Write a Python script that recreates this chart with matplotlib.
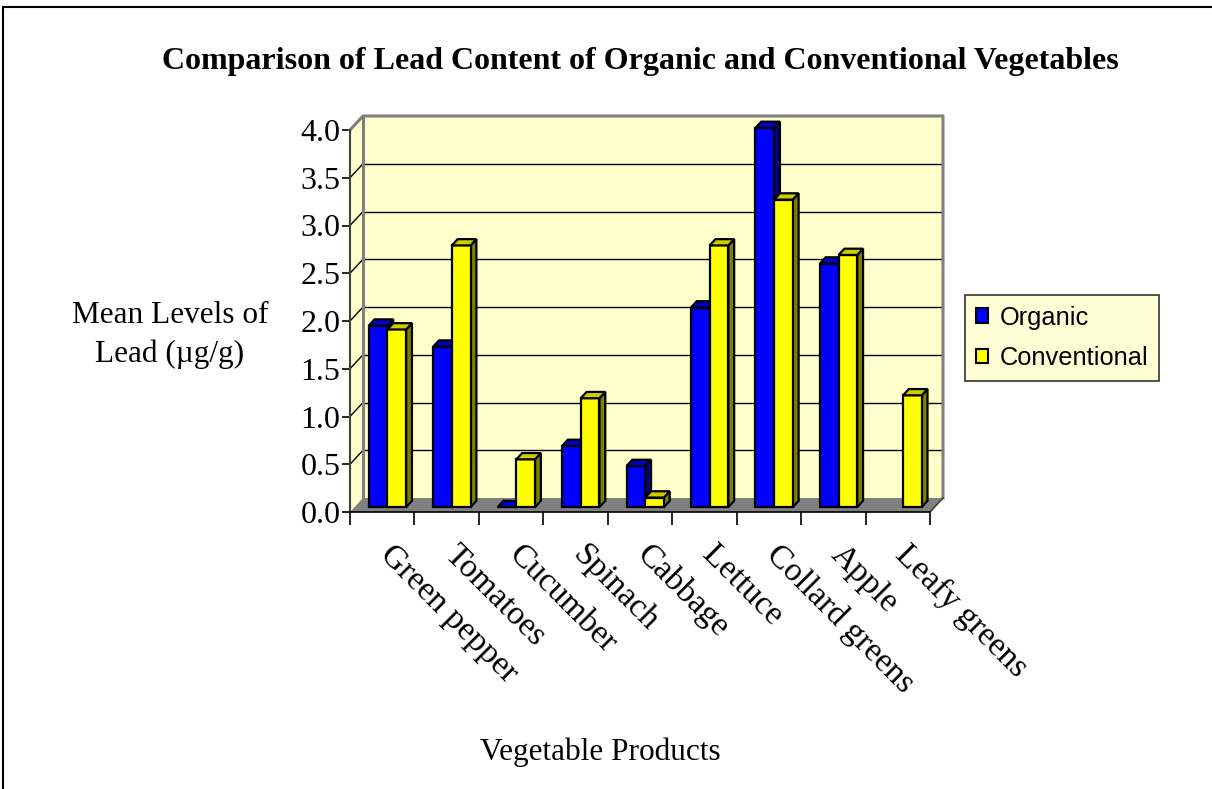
import numpy as np
import matplotlib
matplotlib.use("Agg")
import matplotlib.pyplot as plt
from matplotlib.patches import Polygon, Patch
from matplotlib.lines import Line2D
from matplotlib.transforms import ScaledTranslation

# ---------------- data ----------------
categories = ["Green pepper", "Tomatoes", "Cucumber", "Spinach", "Cabbage",
              "Lettuce", "Collard greens", "Apple", "Leafy greens"]
organic = [1.90, 1.68, 0.00, 0.64, 0.43, 2.09, 3.97, 2.55, np.nan]
conventional = [1.86, 2.74, 0.50, 1.14, 0.10, 2.74, 3.22, 2.64, 1.17]
series_names = ["Organic", "Conventional"]
yticks = [0.0, 0.5, 1.0, 1.5, 2.0, 2.5, 3.0, 3.5, 4.0]
title = "Comparison of Lead Content of Organic and Conventional Vegetables"
xlabel = "Vegetable Products"
ylabel = "Mean Levels of\nLead (\u00b5g/g)"

# ---------------- style ----------------
W, H = 1212, 789
SERIF = "Liberation Serif"
SANS = "Liberation Sans"
front_cols = ["#0000FF", "#FFFF00"]
top_cols = ["#0000C8", "#CCCC00"]
side_cols = ["#000080", "#808000"]
wall_col = "#FFFFCC"
floor_col = "#808080"

fig = plt.figure(figsize=(W / 100, H / 100), dpi=100)
fig.patch.set_facecolor("white")

# front plane of the 3-D box in pixels
L, R, B, T = 350, 930, 512, 130
ax = fig.add_axes([L / W, (H - B) / H, (R - L) / W, (B - T) / H])
n = len(categories)
ax.set_xlim(-0.5, n - 0.5)
ax.set_ylim(0, 4.0)
ax.patch.set_alpha(0)
for s in ax.spines.values():
    s.set_visible(False)

# depth vector in data units
px_x = (R - L) / n
px_y = (B - T) / 4.0
DX, DY = 13 / px_x, 14 / px_y
x_left, x_right = -0.5, n - 0.5
ymax = 4.0

# left wall, back wall, floor
ax.add_patch(Polygon([(x_left, 0), (x_left + DX, DY), (x_left + DX, ymax + DY), (x_left, ymax)],
                     closed=True, facecolor=wall_col, edgecolor="none", zorder=1, clip_on=False))
ax.add_patch(Polygon([(x_left + DX, DY), (x_right + DX, DY), (x_right + DX, ymax + DY), (x_left + DX, ymax + DY)],
                     closed=True, facecolor=wall_col, edgecolor="none", zorder=1, clip_on=False))
# gridlines
for yv in yticks[1:-1]:
    ax.plot([x_left + DX, x_right + DX], [yv + DY, yv + DY], color="black", lw=1.0, zorder=2, clip_on=False)
for yv in yticks[1:-1]:
    ax.plot([x_left, x_left + DX], [yv, yv + DY], color="black", lw=1.0, zorder=2, clip_on=False)
# wall outlines
ax.plot([x_left, x_left + DX, x_right + DX, x_right + DX],
        [ymax, ymax + DY, ymax + DY, DY], color="#808080", lw=2.2, zorder=3, clip_on=False)
ax.plot([x_left + DX, x_left + DX], [DY, ymax + DY], color="#808080", lw=2.2, zorder=3, clip_on=False)
# floor
ax.add_patch(Polygon([(x_left, 0), (x_right, 0), (x_right + DX, DY), (x_left + DX, DY)],
                     closed=True, facecolor=floor_col, edgecolor="none", zorder=3, clip_on=False))
ax.plot([x_right, x_right + DX], [0, DY], color="#404040", lw=1.2, zorder=4, clip_on=False)
ax.plot([x_left, x_left], [0, ymax], color="#404040", lw=1.5, zorder=4, clip_on=False)
ax.plot([x_left, x_right], [0, 0], color="black", lw=1.2, zorder=4, clip_on=False)

# bars
bw = 0.29
a, b = 0.35, 0.8
for i in range(n):
    for s, vals in enumerate([organic, conventional]):
        v = vals[i]
        if np.isnan(v):
            continue
        x0 = i - 0.28 + s * bw
        z = 10 + i * 2 + s
        fx0, fx1 = x0 + a * DX, x0 + bw + a * DX
        bx0, bx1 = x0 + b * DX, x0 + bw + b * DX
        fy, by = a * DY, b * DY
        if v > 0:
            ax.add_patch(Polygon([(fx1, fy), (bx1, by), (bx1, v + by), (fx1, v + fy)], closed=True,
                                 facecolor=side_cols[s], edgecolor="black", lw=1.6,
                                 joinstyle="miter", zorder=z, clip_on=False))
            ax.add_patch(Polygon([(fx0, fy), (fx1, fy), (fx1, v + fy), (fx0, v + fy)], closed=True,
                                 facecolor=front_cols[s], edgecolor="black", lw=1.6,
                                 joinstyle="miter", zorder=z, clip_on=False))
        ax.add_patch(Polygon([(fx0, v + fy), (fx1, v + fy), (bx1, v + by), (bx0, v + by)], closed=True,
                             facecolor=top_cols[s], edgecolor="black", lw=1.6,
                             joinstyle="miter", zorder=z, clip_on=False))

# ticks
ax.set_yticks(yticks)
ax.set_yticklabels([f"{t:.1f}" for t in yticks], fontfamily=SERIF, fontsize=23)
ax.tick_params(axis="y", direction="out", length=6, width=1.2, color="black", pad=1)
ax.set_xticks(np.arange(-0.5, n, 1.0))
ax.set_xticklabels([])
ax.tick_params(axis="x", direction="out", length=9, width=1.2, color="black")

# category labels
off = ScaledTranslation(0.13, -0.27, fig.dpi_scale_trans)
for i, c in enumerate(categories):
    ax.text(i, 0, c, transform=ax.transData + off, rotation=-45, rotation_mode="anchor",
            ha="left", va="top", fontfamily=SERIF, fontsize=24, clip_on=False)

# titles
fig.text(640 / W, 1 - 61 / H, title, ha="center", va="center", fontfamily=SERIF,
         fontweight="bold", fontsize=23)
fig.text(600 / W, 1 - 752 / H, xlabel, ha="center", va="center", fontfamily=SERIF, fontsize=22.5)
fig.text(170 / W, 1 - 335 / H, ylabel, ha="center", va="center", fontfamily=SERIF,
         fontsize=22.5, linespacing=1.45, multialignment="center")

# legend
handles = [Patch(facecolor=front_cols[k], edgecolor="black", lw=1.5) for k in range(2)]
leg = fig.legend(handles, series_names, loc="center left",
                 bbox_to_anchor=(965 / W, 1 - 338 / H), prop={"family": SANS, "size": 18.3},
                 frameon=True, fancybox=False, handlelength=0.5, handleheight=0.5,
                 handletextpad=0.45, borderpad=0.42, labelspacing=0.65, borderaxespad=0)
leg.get_frame().set_facecolor(wall_col)
leg.get_frame().set_edgecolor("black")
leg.get_frame().set_linewidth(1.2)

# outer frame
fig.add_artist(Line2D([3 / W, 3 / W], [0, 1 - 7 / H], color="black", lw=1.5))
fig.add_artist(Line2D([3 / W, 1], [1 - 7 / H, 1 - 7 / H], color="black", lw=1.5))

fig.savefig("out.png", dpi=100)
